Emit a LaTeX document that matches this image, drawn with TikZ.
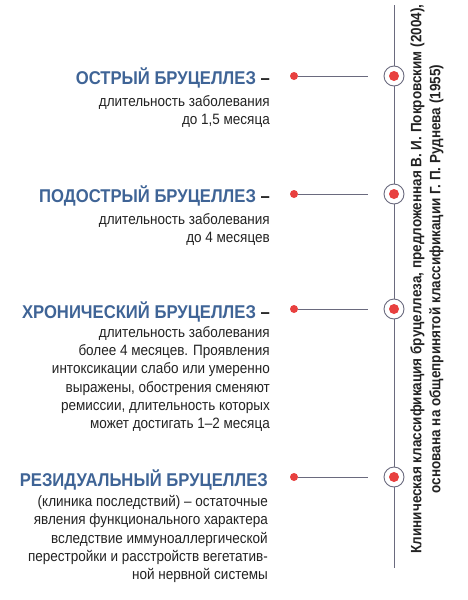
\documentclass[tikz,border=0pt]{standalone}
\usepackage{fontspec}
\setmainfont{Liberation Sans}[FakeStretch=0.9]
\definecolor{titleblue}{HTML}{3F6496}
\definecolor{dotred}{HTML}{E8403F}
\definecolor{linegray}{HTML}{6A6A7E}
\definecolor{bodytext}{HTML}{222222}
\tikzset{
  titletext/.style={anchor=base east, inner sep=0pt, font=\bfseries\fontsize{18.5}{20}\selectfont, text=titleblue},
  bodytextst/.style={anchor=base east, inner sep=0pt, align=right, font=\fontsize{15}{18.2}\selectfont, text=bodytext},
  reddot/.style={circle, fill=dotred, inner sep=0pt, minimum size=8pt},
  ring/.style={circle, draw=linegray, line width=0.9pt, fill=white, inner sep=0pt, minimum size=20pt},
  ringdot/.style={circle, fill=dotred, inner sep=0pt, minimum size=10pt},
  conn/.style={draw=linegray, line width=0.9pt},
  sidetext/.style={rotate=90, align=center, inner sep=0pt, font=\bfseries\fontsize{15}{19}\selectfont, text=bodytext}
}
\begin{document}
\begin{tikzpicture}[x=1pt,y=-1pt]
\useasboundingbox (0,0) rectangle (468,600);
% vertical axis
\coordinate (vtop) at (394,5);
\coordinate (vbot) at (394,568);
\draw[conn] (vtop) -- (vbot);
% items
\foreach \i/\y in {1/76,2/194,3/309,4/477}{
  \node[reddot] (d\i) at (294,\y) {};
  \coordinate (e\i) at (368,\y);
  \draw[conn] (d\i) -- (e\i);
  \node[ring] (r\i) at (394,\y) {};
  \node[ringdot] (rd\i) at (394,\y) {};
}
% texts
\node[titletext] (t1) at (270,84.5) {ОСТРЫЙ БРУЦЕЛЛЕЗ \textcolor{bodytext}{–}};
\node[bodytextst] (b1) at (270,124.5) {длительность заболевания\\до 1,5 месяца};
\node[titletext] (t2) at (270,202.5) {ПОДОСТРЫЙ БРУЦЕЛЛЕЗ \textcolor{bodytext}{–}};
\node[bodytextst] (b2) at (270,242.5) {длительность заболевания\\до 4 месяцев};
\node[titletext] (t3) at (270,318.5) {ХРОНИЧЕСКИЙ БРУЦЕЛЛЕЗ \textcolor{bodytext}{–}};
\node[bodytextst] (b3) at (270,428.5) {длительность заболевания\\более 4 месяцев. Проявления\\интоксикации слабо или умеренно\\выражены, обострения сменяют\\ремиссии, длительность которых\\может достигать 1–2 месяца};
\node[titletext] (t4) at (268,486) {РЕЗИДУАЛЬНЫЙ БРУЦЕЛЛЕЗ};
\node[bodytextst] (b4) at (268,579.5) {(клиника последствий) – остаточные\\явления функционального характера\\вследствие иммуноаллергической\\перестройки и расстройств вегетатив-\\ной нервной системы};
% side text
\node[sidetext] (side) at (427,279) {Клиническая классификация бруцеллеза, предложенная В. И. Покровским (2004),\\основана на общепринятой классификации Г. П. Руднева (1955)};
\end{tikzpicture}
\end{document}
